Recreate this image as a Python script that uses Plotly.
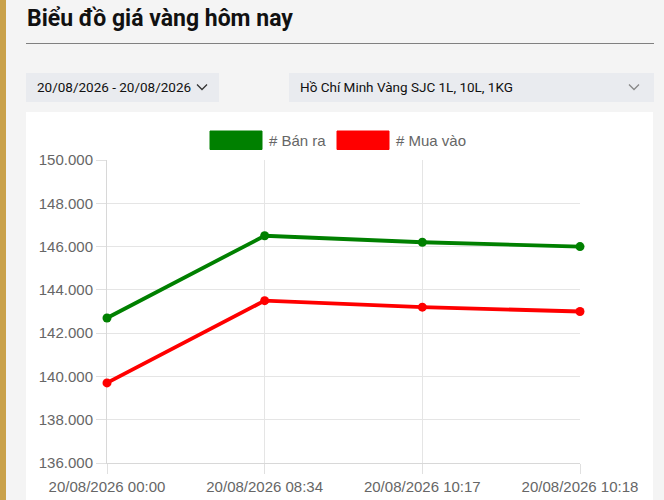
import plotly.graph_objects as go

W, H = 664, 500
# plot area in page pixels
L, R, T, B = 107, 580, 160, 463

times = ["20/08/2026 00:00", "20/08/2026 08:34", "20/08/2026 10:17", "20/08/2026 10:18"]
ban_ra = [142700, 146500, 146200, 146000]
mua_vao = [139700, 143500, 143200, 143000]
series_names = ["# Bán ra", "# Mua vào"]
series_colors = ["#008000", "#ff0000"]
y_ticks = [136000, 138000, 140000, 142000, 144000, 146000, 148000, 150000]

title_text = "Biểu đồ giá vàng hôm nay"
date_range_text = "20/08/2026 - 20/08/2026"
product_text = "Hồ Chí Minh Vàng SJC 1L, 10L, 1KG"


def px(x):
    return (x - L) / (R - L)


def py(y):
    return (B - y) / (B - T)


def rect(x0, y0, x1, y1, color):
    return dict(type="rect", xref="paper", yref="paper", layer="below",
                x0=px(x0), x1=px(x1), y0=py(y1), y1=py(y0),
                fillcolor=color, line=dict(width=0))


def chevron(x, y, color):
    pts = [(x - 5, y - 2.5), (x, y + 2.5), (x + 5, y - 2.5)]
    d = "M " + " L ".join(f"{px(a)},{py(b)}" for a, b in pts)
    return dict(type="path", xref="paper", yref="paper", path=d,
                line=dict(color=color, width=1.3))


fig = go.Figure()
for vals, name, col in zip([ban_ra, mua_vao], series_names, series_colors):
    fig.add_trace(go.Scatter(
        x=times, y=vals, name=name, mode="lines+markers",
        line=dict(color=col, width=3.8),
        marker=dict(color=col, size=9),
        cliponaxis=False, hoverinfo="skip", showlegend=False))

shapes = [
    rect(0, 0, 6, H, "#c9a14a"),
    rect(26, 112, 653, H, "#ffffff"),
    rect(26, 73, 219, 102, "#e9ebef"),
    rect(289, 73, 654, 102, "#e9ebef"),
    dict(type="line", xref="paper", yref="paper", x0=px(26), x1=px(654),
         y0=py(43.5), y1=py(43.5), line=dict(color="#808080", width=1)),
    chevron(202, 87, "#333333"),
    chevron(634, 87, "#888888"),
]

annotations = [
    dict(text=f"<b>{title_text}</b>", x=px(25), y=py(18), xanchor="left", yanchor="middle",
         font=dict(family="Roboto", size=23, color="#111111")),
    dict(text=date_range_text, x=px(35), y=py(87.5), xanchor="left", yanchor="middle",
         font=dict(family="Roboto", size=13.5, color="#111111")),
    dict(text=product_text, x=px(298), y=py(87.5), xanchor="left", yanchor="middle",
         font=dict(family="Roboto", size=13.5, color="#111111")),
]

# legend boxes drawn like the original chart
legend_x = [210, 337]
for lx, name, col in zip(legend_x, series_names, series_colors):
    shapes.append(dict(type="rect", xref="paper", yref="paper",
                       x0=px(lx), x1=px(lx + 52), y0=py(149.5), y1=py(131),
                       fillcolor=col, line=dict(color=col, width=1)))
    annotations.append(dict(text=name, x=px(lx + 57), y=py(140), xanchor="left", yanchor="middle",
                            font=dict(family="Liberation Sans", size=15, color="#666666")))

for a in annotations:
    a.update(xref="paper", yref="paper", showarrow=False)

fig.update_layout(
    width=W, height=H,
    margin=dict(l=L, r=W - R, t=T, b=H - B, pad=0, autoexpand=False),
    paper_bgcolor="#f4f4f4", plot_bgcolor="#ffffff",
    separators=",.",
    font=dict(family="Liberation Sans", size=15, color="#666666"),
    shapes=shapes, annotations=annotations,
    xaxis=dict(type="category", range=[0, 3], showgrid=True, gridcolor="#e5e5e5",
               ticks="outside", ticklen=10, tickcolor="#e0e0e0", zeroline=False,
               showline=True, linecolor="#d8d8d8", fixedrange=True, automargin=False,
               layer="below traces"),
    yaxis=dict(range=[136000, 150000], tickvals=y_ticks, tickformat=",.0f",
               showgrid=True, gridcolor="#e5e5e5", ticks="outside", ticklen=10,
               tickcolor="#e0e0e0", zeroline=False, showline=True, linecolor="#d8d8d8",
               fixedrange=True, automargin=False, layer="below traces"),
)

fig.write_html("out.html", config={"displayModeBar": False},
               post_script="document.body.style.margin='0';")
